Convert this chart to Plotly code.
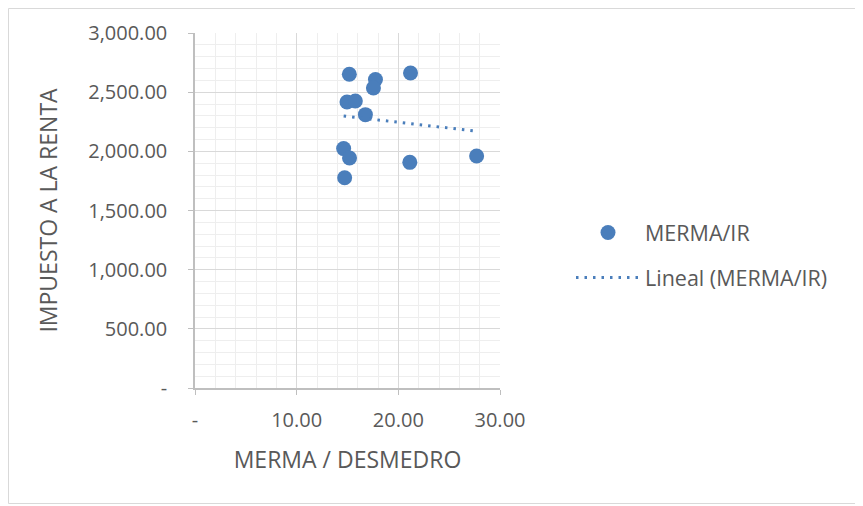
import numpy as np
import plotly.graph_objects as go

# Data
merma = [15.18, 17.75, 21.2, 17.55, 14.95, 15.77, 16.76, 14.62, 15.2, 21.13, 14.72, 27.7]
impuesto = [2651, 2606, 2662, 2535, 2417, 2425, 2310, 2023, 1944, 1907, 1777, 1961]

x_tickvals = [0, 10, 20, 30]
x_ticktext = ["-", "10.00", "20.00", "30.00"]
y_tickvals = [0, 500, 1000, 1500, 2000, 2500, 3000]
y_ticktext = ["-", "500.00", "1,000.00", "1,500.00", "2,000.00", "2,500.00", "3,000.00"]

series_name = "MERMA/IR"
trend_name = "Lineal (MERMA/IR)"

# Linear trendline computed from the data
slope, intercept = np.polyfit(merma, impuesto, 1)
tx = np.array([min(merma), max(merma)])
ty = slope * tx + intercept

BLUE = "#4a7ebb"
TXT = "#595959"
FONT = "Open Sans"

fig = go.Figure()
fig.add_trace(go.Scatter(
    x=merma, y=impuesto, mode="markers", name=series_name,
    marker=dict(color=BLUE, size=15), legendgroup="a",
))
fig.add_trace(go.Scatter(
    x=tx, y=ty, mode="lines", name=trend_name,
    line=dict(color=BLUE, width=3, dash="2.5px,6px"), legendgroup="b",
))

OFF = 8  # page offset of the figure inside the window
W, H = 863 - OFF, 506 - OFF
L, T = 195 - OFF, 33 - OFF
pw, ph = 305, 355
R = W - L - pw
B = H - T - ph

def px2x(p):  # window pixel -> paper x
    return (p - OFF - L) / pw

def py2y(p):  # window pixel -> paper y
    return (T + ph - (p - OFF)) / ph

fig.update_layout(
    width=W, height=H,
    margin=dict(l=L, r=R, t=T, b=B),
    paper_bgcolor="white", plot_bgcolor="white",
    font=dict(family=FONT, color=TXT, size=20),
    showlegend=True,
    legend=dict(
        x=px2x(571), y=py2y(212), xanchor="left", yanchor="top",
        font=dict(size=21.5, color=TXT), tracegroupgap=14,
        itemwidth=64, bgcolor="rgba(0,0,0,0)",
    ),
    xaxis=dict(
        range=[0, 30], tickvals=x_tickvals, ticktext=x_ticktext,
        showgrid=True, gridcolor="#d9d9d9", gridwidth=1,
        minor=dict(dtick=2, showgrid=True, gridcolor="#eeeeee", ticks=""),
        showline=True, linecolor="#bfbfbf", linewidth=1.5,
        ticks="outside", ticklen=5, tickcolor="#bfbfbf",
        ticklabelstandoff=8, zeroline=False,
        tickfont=dict(size=20, color=TXT),
        title=dict(text="MERMA / DESMEDRO", font=dict(size=23, color=TXT), standoff=20),
    ),
    yaxis=dict(
        range=[0, 3000], tickvals=y_tickvals, ticktext=y_ticktext,
        showgrid=True, gridcolor="#d9d9d9", gridwidth=1,
        minor=dict(dtick=100, showgrid=True, gridcolor="#eeeeee", ticks=""),
        showline=True, linecolor="#bfbfbf", linewidth=1.5,
        ticks="outside", ticklen=5, tickcolor="#bfbfbf",
        ticklabelstandoff=17, zeroline=False,
        tickfont=dict(size=20, color=TXT),
        title=dict(text="IMPUESTO A LA RENTA", font=dict(size=23, color=TXT), standoff=24),
    ),
    shapes=[dict(
        type="rect", xref="paper", yref="paper",
        x0=px2x(OFF + 0.5), x1=px2x(860.5), y0=py2y(503.5), y1=py2y(OFF + 0.5),
        line=dict(color="#d9d9d9", width=1), fillcolor="rgba(0,0,0,0)", layer="below",
    )],
)

fig.write_html("out.html")
